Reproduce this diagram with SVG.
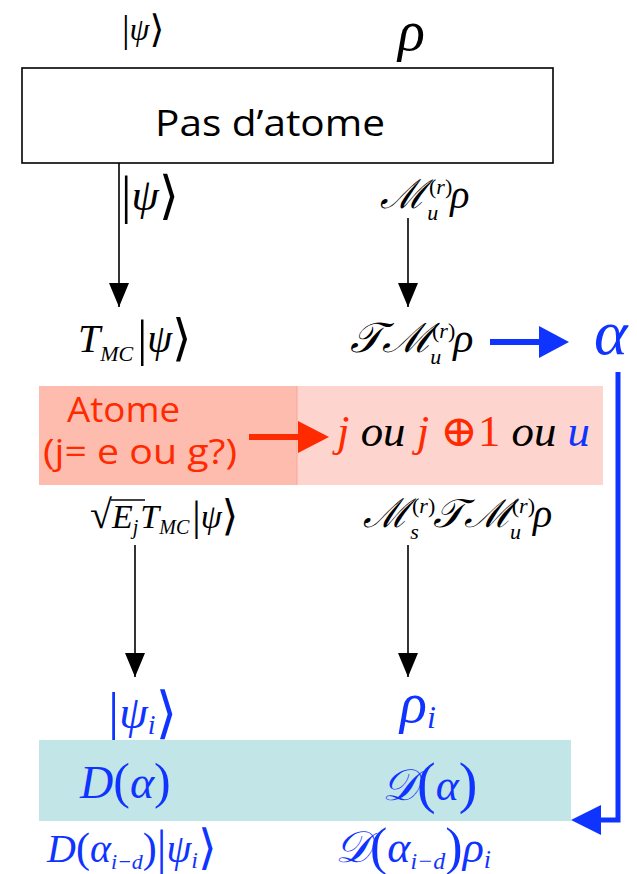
<svg xmlns="http://www.w3.org/2000/svg" width="637" height="874" viewBox="0 0 637 874">
<style>
.m{font-family:"Liberation Serif","DejaVu Serif",serif;font-style:italic;fill:#000}
.u{font-family:"Liberation Serif","DejaVu Serif",serif;font-style:normal}
.c{font-family:"DejaVu Serif","Liberation Serif",serif;font-style:italic}
.blue{fill:#1034ff}
.red{fill:#ff2a00}
.k{stroke:#000;stroke-width:1.6;fill:none}
.sans{font-family:"Open Sans","DejaVu Sans",sans-serif}
</style>
<defs>
<marker id="ah" viewBox="0 0 10 10" refX="10" refY="5" markerWidth="24" markerHeight="20" markerUnits="userSpaceOnUse" orient="auto-start-reverse" preserveAspectRatio="none"><path d="M0,0 L10,5 L0,10 Z" fill="#000"/></marker>
</defs>
<g id="no-atom">
<rect x="22" y="68" width="531" height="95" fill="#fff" stroke="#000" stroke-width="1.6"/>
<text class="sans" x="155" y="136" font-size="36" textLength="230" lengthAdjust="spacingAndGlyphs">Pas d’atome</text>
</g>
<g id="top-labels">
<text class="m" x="122" y="40" font-size="32"><tspan class="u" font-size="38" dy="2">|</tspan><tspan dy="-2">ψ</tspan><tspan class="u" font-size="38" dy="2">⟩</tspan></text>
<text class="m" x="398" y="50" font-size="56">ρ</text>
</g>
<g id="after-no-atom">
<text class="m" x="121" y="210" font-size="44"><tspan class="u" font-size="52" dy="3">|</tspan><tspan dy="-3">ψ</tspan><tspan class="u" font-size="52" dy="3">⟩</tspan></text>
<text class="m" x="380" y="208" font-size="40"><tspan class="c">ℳ</tspan><tspan class="u" font-size="22" dx="3" dy="-14">(</tspan><tspan font-size="22">r</tspan><tspan class="u" font-size="22">)</tspan><tspan font-size="22" dx="-25" dy="26">u</tspan><tspan dx="12" dy="-12">ρ</tspan></text>
</g>
<g id="after-cavity">
<text class="m" x="78" y="352" font-size="40">T<tspan font-size="22" dy="9">MC</tspan><tspan class="u" font-size="50" dy="-6" dx="4">|</tspan><tspan dy="-3">ψ</tspan><tspan class="u" font-size="50" dy="3">⟩</tspan></text>
<text class="m" x="350" y="352" font-size="42"><tspan class="c">𝒯ℳ</tspan><tspan class="u" font-size="22" dx="3" dy="-14">(</tspan><tspan font-size="22">r</tspan><tspan class="u" font-size="22">)</tspan><tspan font-size="22" dx="-25" dy="26">u</tspan><tspan dx="12" dy="-12">ρ</tspan></text>
<text class="m blue" x="594" y="354" font-size="64">α</text>
</g>
<g id="atom">
<rect x="39" y="386" width="258" height="99" fill="#fdbcae"/>
<rect x="297" y="386" width="306" height="99" fill="#fdd4ce"/>
<line x1="297" y1="386" x2="297" y2="485" stroke="#f7a796" stroke-width="1"/>
<text class="sans red" x="67" y="422" font-size="34" textLength="113" lengthAdjust="spacingAndGlyphs">Atome</text>
<text class="sans red" x="43" y="464" font-size="34" textLength="194" lengthAdjust="spacingAndGlyphs">(j= e ou g?)</text>
<text class="m" x="337" y="446" font-size="44" textLength="253" lengthAdjust="spacingAndGlyphs"><tspan class="red">j</tspan> ou <tspan class="red">j</tspan><tspan class="u red"> ⊕1</tspan> ou <tspan class="blue">u</tspan></text>
</g>
<g id="after-atom">
<text class="m" x="90" y="528" font-size="34"><tspan class="u" font-size="40">√</tspan><tspan dx="0">E</tspan><tspan font-size="20" dy="6">j</tspan><tspan dy="-6" dx="2">T</tspan><tspan font-size="20" dy="6">MC</tspan><tspan class="u" font-size="42" dy="-4" dx="3">|</tspan><tspan dy="-2">ψ</tspan><tspan class="u" font-size="42" dy="2">⟩</tspan></text>
<line x1="111" y1="500" x2="145" y2="500" stroke="#000" stroke-width="1.6"/>
<text class="m" x="363" y="527" font-size="40"><tspan class="c">ℳ</tspan><tspan class="u" font-size="22" dx="3" dy="-14">(</tspan><tspan font-size="22">r</tspan><tspan class="u" font-size="22">)</tspan><tspan font-size="22" dx="-25" dy="26">s</tspan><tspan class="c" dx="14" dy="-12">𝒯ℳ</tspan><tspan class="u" font-size="22" dx="3" dy="-14">(</tspan><tspan font-size="22">r</tspan><tspan class="u" font-size="22">)</tspan><tspan font-size="22" dx="-25" dy="26">u</tspan><tspan dx="12" dy="-12">ρ</tspan></text>
</g>
<g id="states-i">
<text class="m blue" x="108" y="728" font-size="46"><tspan class="u" font-size="56" dy="4">|</tspan><tspan dy="-4">ψ</tspan><tspan font-size="28" dy="6">i</tspan><tspan class="u" font-size="56" dy="-2">⟩</tspan></text>
<text class="m blue" x="400" y="722" font-size="56">ρ<tspan font-size="32" dy="6">i</tspan></text>
</g>
<g id="displacement">
<rect x="39" y="740" width="532" height="81" fill="#c2e5e7"/>
<text class="m blue" x="80" y="798" font-size="46">D<tspan class="u" font-size="50">(</tspan>α<tspan class="u" font-size="50">)</tspan></text>
<text class="m blue" x="382" y="800" font-size="44"><tspan class="c">𝒟</tspan><tspan class="u" font-size="56" dy="2">(</tspan><tspan dy="-2">α</tspan><tspan class="u" font-size="56" dy="2">)</tspan></text>
</g>
<g id="final">
<text class="m blue" x="47" y="862" font-size="40">D<tspan class="u" font-size="42">(</tspan>α<tspan font-size="22" dy="7">i−d</tspan><tspan class="u" font-size="42" dy="-7">)</tspan><tspan class="u" font-size="48" dy="2">|</tspan><tspan dy="-2">ψ</tspan><tspan font-size="24" dy="6">i</tspan><tspan class="u" font-size="48" dy="-4">⟩</tspan></text>
<text class="m blue" x="335" y="862" font-size="44"><tspan class="c">𝒟</tspan><tspan class="u" font-size="52" dy="2">(</tspan><tspan dy="-2">α</tspan><tspan font-size="24" dy="7">i−d</tspan><tspan class="u" font-size="52" dy="-5">)</tspan><tspan dy="-2">ρ</tspan><tspan font-size="26" dy="6">i</tspan></text>
</g>
<g id="connectors">
<line x1="119" y1="163" x2="119" y2="307" class="k" marker-end="url(#ah)"/>
<line x1="408" y1="218" x2="408" y2="307" class="k" marker-end="url(#ah)"/>
<line x1="135" y1="545" x2="135" y2="677" class="k" marker-end="url(#ah)"/>
<line x1="408" y1="545" x2="408" y2="677" class="k" marker-end="url(#ah)"/>
<line x1="490" y1="342" x2="542" y2="342" stroke="#1034ff" stroke-width="6"/>
<path d="M539,326 L569,342 L539,358 Z" fill="#1034ff"/>
<line x1="249" y1="437" x2="300" y2="437" stroke="#ff2a00" stroke-width="6"/>
<path d="M298,421 L329,437 L298,453 Z" fill="#ff2a00"/>
<polyline points="618,372 618,820 598,820" fill="none" stroke="#1034ff" stroke-width="5"/>
<path d="M601,805 L571,820 L601,835 Z" fill="#1034ff"/>
</g>
</svg>
